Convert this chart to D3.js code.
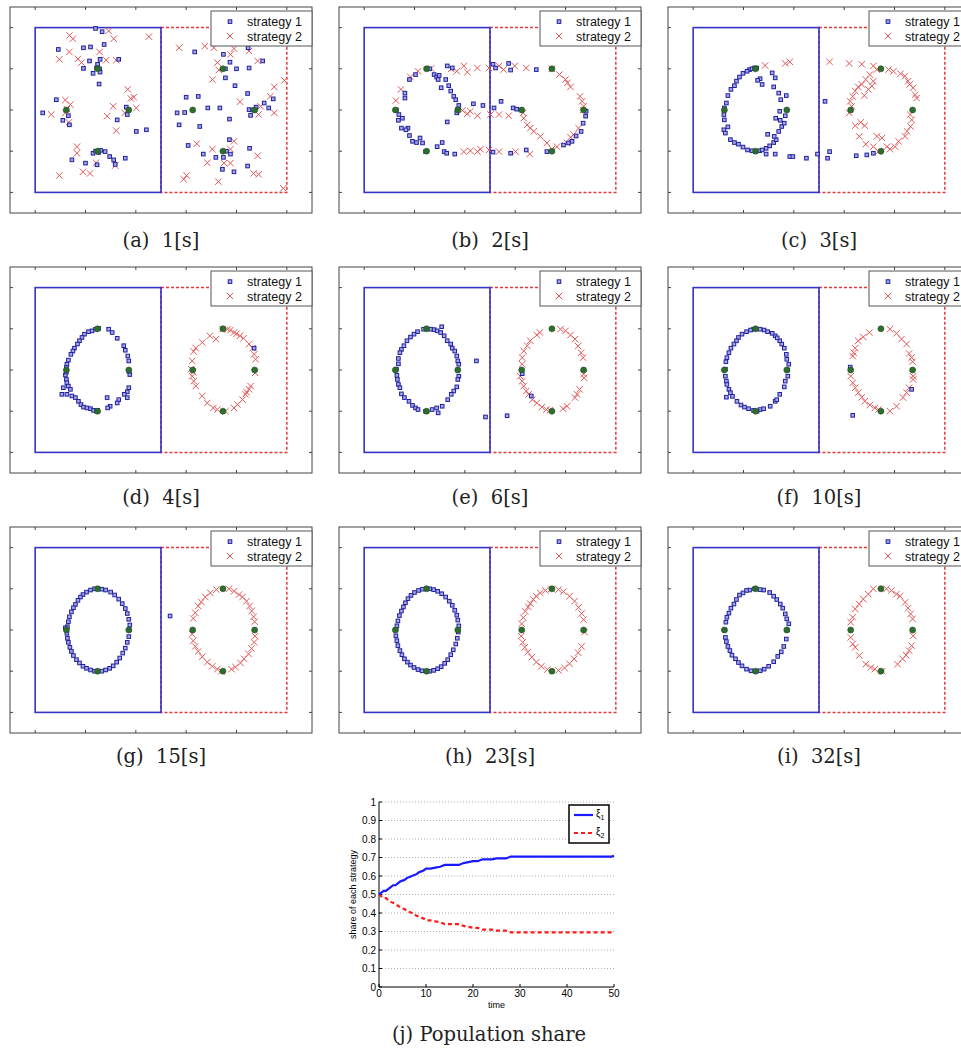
<!DOCTYPE html>
<html>
<head>
<meta charset="utf-8">
<script src="https://cdn.jsdelivr.net/npm/d3@7"></script>
<style>
  body { margin: 0; background: #fff; }
  .sans { font-family: "Liberation Sans", Arial, sans-serif; }
  .cap { font-family: "DejaVu Serif", serif; }
</style>
</head>
<body>
<svg id="fig" width="961" height="1050"></svg>
<script>
// ---- scatter panel data (positions in plot units) ----
const xTicks = [0, 1, 2, 3, 4, 5];
const yTicks = [0, 1, 2, 3, 4];
const targets = [[0.62, 2], [1.86, 2], [1.24, 3], [1.24, 1], [3.13, 2], [4.36, 2], [3.73, 3], [3.73, 1]];
const captions = ["(a)  1[s]", "(b)  2[s]", "(c)  3[s]", "(d)  4[s]", "(e)  6[s]", "(f)  10[s]", "(g)  15[s]", "(h)  23[s]", "(i)  32[s]"];
const legendLabels = ["strategy 1", "strategy 2"];

const s1_a = [[1.20,3.98],[1.33,3.90],[0.46,3.47],[0.96,3.51],[1.10,3.53],[1.37,3.59],[1.08,3.19],[1.29,3.23],[1.24,3.11],[0.96,3.01],[1.15,2.89],[1.29,2.92],[1.66,3.23],[1.27,2.63],[0.42,2.25],[0.15,1.93],[0.55,1.75],[0.66,1.86],[0.68,1.64],[1.63,1.76],[1.83,1.89],[1.81,2.07],[2.01,1.48],[2.21,1.52],[0.73,0.79],[1.00,0.71],[1.15,0.95],[1.23,0.67],[1.39,0.99],[1.48,0.87],[1.56,0.79],[1.59,0.68],[1.79,0.83],[1.26,0.97],[1.22,3.02],[1.28,3.0],[1.2,1.0],[1.30,1.02],[1.85,2.0],
  [3.17,3.41],[3.74,3.35],[3.87,3.16],[4.23,3.51],[4.52,3.19],[4.00,3.00],[4.25,3.02],[3.78,2.78],[3.97,2.59],[3.00,2.31],[3.24,2.33],[4.22,2.40],[2.82,1.93],[2.97,1.94],[2.86,1.64],[3.27,1.60],[3.43,2.05],[3.67,2.05],[3.86,1.78],[4.25,2.01],[4.28,1.87],[4.39,2.07],[4.55,2.17],[4.73,2.27],[4.64,2.05],[3.04,1.14],[3.34,0.93],[3.59,0.85],[3.74,0.85],[3.86,1.28],[3.88,0.93],[4.26,1.07],[3.72,0.56],[3.95,0.50],[4.22,0.64],[4.32,2.0],[3.78,3.0],[3.80,1.0]];
const s2_a = [[0.68,3.81],[0.75,3.73],[1.46,3.92],[1.56,3.73],[2.26,3.78],[0.48,3.23],[0.68,3.41],[0.85,3.24],[0.92,3.15],[1.28,3.41],[1.41,3.21],[1.61,3.21],[1.84,2.50],[1.96,2.31],[0.60,2.24],[0.70,2.13],[0.60,1.93],[0.32,1.89],[0.67,1.70],[1.55,2.09],[1.43,1.85],[1.78,1.93],[2.01,2.05],[1.61,1.50],[0.83,1.11],[0.83,0.95],[0.48,0.41],[0.95,0.50],[1.09,0.46],[1.21,0.72],[1.59,0.65],[1.90,2.28],[0.63,2.02],
  [2.86,3.51],[3.37,3.55],[3.55,3.51],[3.95,3.49],[4.25,3.43],[3.88,3.35],[4.42,3.19],[3.62,3.15],[3.65,2.97],[3.52,2.74],[4.95,2.72],[4.75,2.56],[4.67,2.33],[4.07,2.20],[4.48,2.09],[4.75,1.93],[4.44,1.89],[3.21,1.18],[3.52,1.05],[3.95,1.24],[3.88,1.05],[3.42,0.72],[3.75,0.71],[3.88,0.71],[4.42,0.89],[3.01,0.41],[2.95,0.32],[3.64,0.26],[4.34,0.46],[4.44,0.44],[4.93,0.10]];

const s1_b = [[0.90,2.74],[1.02,2.86],[1.39,2.86],[1.44,2.80],[1.49,2.84],[1.47,2.74],[1.62,2.74],[1.53,2.54],[1.68,2.59],[1.72,2.46],[1.78,2.33],[1.82,2.25],[1.88,2.11],[1.84,1.93],[1.65,1.71],[0.81,2.41],[0.81,2.29],[0.69,1.89],[0.68,1.75],[0.76,1.80],[0.74,1.56],[0.87,1.56],[0.83,1.52],[0.90,1.38],[0.96,1.24],[1.04,1.21],[1.11,1.32],[1.16,1.20],[1.45,1.11],[1.55,1.21],[1.59,0.99],[1.64,0.95],[1.80,0.93],[1.65,3.07],[1.75,3.02],[2.17,2.15],[2.36,2.11],[2.56,3.11],[2.61,3.02],[2.58,2.05],[2.72,2.21],[2.87,3.13],[2.91,2.97],[2.96,2.05],[3.03,2.02],[3.42,2.98],[2.56,0.98],[2.91,0.95],[3.22,1.03],[3.63,0.99],[3.96,1.15],[4.06,1.20],[4.13,1.24],[4.21,1.37],[4.31,1.48],[4.35,1.68],[4.40,1.85],[4.41,1.97],[1.22,0.99],[1.30,3.0],[0.64,2.0],[1.86,2.02]];
const s2_b = [[0.73,2.50],[0.63,2.23],[0.92,2.80],[1.07,2.94],[1.33,3.01],[1.73,3.00],[1.84,2.94],[1.98,3.07],[2.05,2.92],[2.25,3.02],[2.48,3.02],[2.68,3.07],[2.77,2.98],[2.99,3.07],[3.22,3.02],[3.73,3.00],[3.88,2.86],[4.00,2.74],[4.10,2.56],[4.04,2.66],[4.29,2.33],[4.33,2.21],[4.36,2.09],[4.26,1.56],[4.16,1.40],[4.10,1.34],[4.03,1.20],[3.83,1.11],[3.73,1.05],[3.63,1.20],[3.50,1.36],[3.37,1.48],[3.30,1.56],[3.24,1.64],[3.17,1.80],[3.16,1.93],[2.87,1.86],[2.68,1.89],[2.51,1.89],[2.25,1.86],[2.11,1.97],[1.95,1.99],[2.05,1.91],[1.98,0.99],[2.11,1.01],[2.25,0.99],[2.31,1.05],[2.48,1.03],[2.68,0.99],[3.01,0.99],[3.29,0.93],[4.35,2.0]];

const s1_c = [[1.12,2.98],[1.17,3.00],[1.22,3.02],[1.07,2.94],[0.99,2.89],[0.92,2.80],[0.86,2.70],[0.82,2.59],[0.75,2.50],[0.69,2.35],[0.66,2.17],[0.61,1.89],[0.62,1.76],[0.61,1.52],[0.64,1.44],[0.69,1.59],[0.74,1.28],[0.82,1.21],[0.90,1.17],[0.99,1.10],[1.08,1.03],[1.17,1.01],[1.24,0.99],[1.32,1.01],[1.37,1.03],[1.45,1.07],[1.52,1.13],[1.60,1.21],[1.65,1.28],[1.48,1.41],[1.61,1.36],[1.70,1.48],[1.76,1.60],[1.81,1.68],[1.73,1.75],[1.83,1.86],[1.72,1.97],[1.64,1.80],[1.74,2.25],[1.85,2.35],[1.70,2.41],[1.60,2.56],[1.63,2.78],[1.57,2.90],[1.33,2.76],[1.28,2.72],[1.37,2.62],[1.45,0.93],[1.63,0.93],[1.92,0.87],[1.98,0.87],[2.25,0.83],[2.47,0.93],[2.67,0.83],[2.71,0.99],[2.62,2.21],[3.24,0.89],[3.45,0.91],[3.58,0.95],[0.62,2.05],[1.26,3.02]];
const s2_c = [[1.43,3.08],[1.83,3.13],[1.92,3.17],[2.71,3.17],[3.10,3.13],[3.35,3.11],[3.58,3.07],[3.65,2.98],[3.88,2.98],[3.98,2.94],[4.21,2.82],[4.27,2.70],[4.37,2.54],[4.41,2.37],[4.44,2.29],[3.51,2.86],[3.43,2.74],[3.35,2.62],[3.28,2.56],[3.22,2.46],[3.17,2.33],[3.12,2.21],[3.15,2.09],[3.10,1.93],[3.48,2.50],[3.58,2.70],[3.22,1.62],[3.33,1.70],[3.41,1.62],[3.30,1.36],[3.43,1.17],[3.65,1.36],[3.75,1.32],[3.85,1.11],[3.91,1.05],[4.01,1.11],[4.08,1.24],[4.21,1.36],[4.25,1.48],[4.32,1.60],[4.34,1.76],[4.31,1.89],[3.58,1.11],[3.68,0.99],[4.12,2.88],[4.30,2.62],[3.40,2.35],[3.55,2.58]];

const s1_d = [[1.26,3.01],[1.20,2.99],[1.13,2.95],[1.06,2.93],[0.98,2.87],[0.93,2.79],[0.88,2.71],[0.84,2.63],[0.78,2.53],[0.75,2.46],[0.71,2.38],[0.66,2.24],[0.63,2.14],[0.62,2.06],[0.60,1.88],[0.62,1.77],[0.63,1.69],[0.66,1.61],[0.56,1.57],[0.53,1.41],[0.63,1.41],[0.70,1.53],[0.73,1.37],[0.80,1.33],[0.86,1.24],[0.91,1.16],[0.96,1.10],[1.03,1.08],[1.10,1.06],[1.16,1.02],[1.22,1.00],[1.46,2.99],[1.53,2.91],[1.63,2.77],[1.76,2.59],[1.79,2.48],[1.84,2.34],[1.86,2.22],[1.88,1.89],[1.86,1.57],[1.83,1.47],[1.77,1.41],[1.83,1.33],[1.66,1.28],[1.63,1.20],[1.49,1.12],[1.44,1.08],[1.43,1.33],[4.35,2.53],[0.62,1.95],[1.24,1.02],[1.86,1.97]];
const s2_d = [[3.72,2.99],[3.82,2.99],[3.88,2.97],[3.95,2.91],[4.07,2.83],[4.14,2.77],[4.25,2.63],[4.32,2.53],[4.35,2.38],[4.38,2.26],[4.37,1.93],[4.28,1.61],[4.25,1.53],[4.18,1.41],[4.12,1.28],[4.02,1.16],[3.95,1.08],[3.59,2.75],[3.47,2.83],[3.32,2.67],[3.19,2.53],[3.15,2.45],[3.12,2.22],[3.10,2.02],[3.12,1.85],[3.15,1.73],[3.19,1.61],[3.32,1.37],[3.42,1.20],[3.54,1.08],[3.62,1.04],[4.00,2.88],[4.20,1.46],[3.14,1.95],[3.78,1.0]];

const s1_e = [[1.06,2.93],[0.99,2.87],[0.92,2.80],[0.85,2.71],[0.79,2.59],[0.74,2.50],[0.71,2.42],[0.68,2.28],[0.65,1.87],[0.66,1.77],[0.68,1.65],[0.71,1.57],[0.74,1.42],[0.89,1.24],[0.96,1.14],[1.02,1.08],[1.07,1.04],[1.32,2.99],[1.39,2.98],[1.45,2.95],[1.54,3.05],[1.52,2.91],[1.59,2.83],[1.65,2.71],[1.72,2.63],[1.75,2.53],[1.80,2.46],[1.84,2.34],[1.86,2.22],[1.88,2.14],[1.88,1.85],[1.86,1.77],[1.84,1.59],[1.78,1.49],[1.73,1.41],[1.66,1.28],[1.55,1.12],[1.44,1.08],[1.47,0.96],[1.35,1.04],[2.23,2.22],[2.41,0.86],[2.84,0.89],[3.14,1.91],[3.32,1.37],[0.64,2.02],[1.86,2.0],[1.22,1.0],[1.18,2.99],[0.80,1.33],[0.68,2.15]];
const s2_e = [[3.43,2.85],[3.30,2.71],[3.24,2.59],[3.17,2.46],[3.14,2.30],[3.14,2.14],[3.10,1.85],[3.14,1.73],[3.17,1.61],[3.22,1.49],[3.27,1.41],[3.34,1.28],[3.43,1.20],[3.53,1.10],[3.62,1.04],[3.69,1.02],[3.90,2.99],[4.00,2.95],[4.10,2.85],[4.19,2.75],[4.31,2.42],[4.35,2.30],[4.37,1.81],[4.28,1.53],[4.23,1.41],[4.19,1.33],[4.03,1.12],[3.49,2.91],[4.36,1.90],[4.25,2.58],[3.95,1.06]];

const s1_f = [[1.20,2.99],[1.33,2.99],[1.41,2.97],[1.48,2.93],[1.14,2.97],[1.06,2.93],[0.97,2.87],[0.90,2.79],[0.86,2.71],[0.81,2.63],[0.75,2.53],[0.71,2.42],[0.67,2.30],[0.64,1.85],[0.66,1.73],[0.67,1.65],[0.71,1.53],[0.74,1.45],[0.66,1.34],[0.87,1.24],[0.95,1.15],[1.02,1.10],[1.10,1.06],[1.20,1.02],[1.33,1.04],[1.40,1.06],[1.53,1.12],[1.63,1.24],[1.66,1.28],[1.72,1.41],[1.81,1.59],[1.83,1.73],[1.88,1.85],[1.90,2.14],[1.86,2.26],[1.85,2.38],[1.81,2.53],[1.76,2.63],[1.72,2.71],[1.63,2.83],[1.57,2.89],[3.17,0.90],[3.12,2.07],[4.34,1.53],[0.64,2.02],[1.88,2.0],[0.65,2.2],[0.78,1.36],[1.27,1.0],[1.67,2.78]];
const s2_f = [[3.50,2.91],[3.38,2.80],[3.28,2.71],[3.22,2.53],[3.19,2.42],[3.17,2.34],[3.13,1.85],[3.17,1.69],[3.22,1.57],[3.28,1.45],[3.35,1.34],[3.41,1.24],[3.51,1.15],[3.61,1.08],[3.68,1.04],[3.91,2.99],[4.04,2.89],[4.14,2.75],[4.24,2.63],[4.29,2.40],[4.34,2.30],[4.36,2.20],[4.37,1.85],[4.37,1.77],[4.29,1.57],[4.24,1.45],[4.17,1.33],[4.04,1.12],[3.91,1.00]];

const s1_g = [[1.25,3.0],[1.18,3.0],[1.10,2.97],[1.02,2.92],[0.95,2.86],[0.90,2.80],[0.85,2.72],[0.80,2.62],[0.76,2.54],[0.72,2.44],[0.68,2.32],[0.66,2.20],[0.64,2.08],[0.63,1.92],[0.64,1.80],[0.66,1.70],[0.69,1.58],[0.72,1.48],[0.76,1.38],[0.82,1.28],[0.88,1.20],[0.95,1.12],[1.02,1.07],[1.10,1.03],[1.18,1.0],[1.32,1.0],[1.40,1.03],[1.48,1.07],[1.55,1.13],[1.62,1.22],[1.68,1.32],[1.74,1.44],[1.79,1.56],[1.83,1.70],[1.86,1.84],[1.88,2.12],[1.86,2.26],[1.83,2.40],[1.79,2.52],[1.73,2.64],[1.66,2.75],[1.58,2.85],[1.50,2.92],[1.40,2.97],[1.32,2.99],[0.60,2.05],[1.87,2.0],[2.68,2.34]];
const s2_g = [[3.85,3.0],[3.95,2.94],[4.05,2.86],[4.12,2.80],[4.20,2.70],[4.26,2.58],[4.30,2.46],[4.34,2.32],[4.36,2.20],[4.37,1.85],[4.35,1.70],[4.30,1.55],[4.24,1.42],[4.15,1.30],[4.08,1.20],[3.98,1.10],[3.60,2.98],[3.48,2.90],[3.38,2.80],[3.30,2.68],[3.24,2.58],[3.18,2.42],[3.14,2.28],[3.12,1.90],[3.14,1.74],[3.18,1.60],[3.24,1.48],[3.32,1.35],[3.42,1.22],[3.52,1.12],[3.62,1.05],[3.70,1.0],[3.90,1.05]];

const s1_h = [[1.24,3.01],[1.16,2.99],[1.08,2.96],[1.00,2.91],[0.93,2.84],[0.87,2.76],[0.82,2.66],[0.78,2.56],[0.74,2.46],[0.70,2.35],[0.67,2.22],[0.65,2.10],[0.63,1.86],[0.65,1.74],[0.67,1.62],[0.71,1.50],[0.75,1.40],[0.80,1.30],[0.86,1.22],[0.92,1.15],[0.99,1.09],[1.07,1.04],[1.15,1.01],[1.30,1.0],[1.38,1.02],[1.46,1.06],[1.53,1.11],[1.60,1.19],[1.66,1.28],[1.72,1.40],[1.77,1.52],[1.82,1.66],[1.85,1.80],[1.88,2.10],[1.86,2.24],[1.84,2.36],[1.80,2.48],[1.75,2.60],[1.69,2.70],[1.62,2.80],[1.54,2.88],[1.46,2.94],[1.38,2.98],[1.30,3.0],[1.87,1.95],[0.63,2.0]];
const s2_h = [[3.72,3.0],[3.60,2.96],[3.50,2.90],[3.42,2.82],[3.36,2.74],[3.30,2.64],[3.26,2.56],[3.20,2.45],[3.16,2.30],[3.13,2.15],[3.12,1.85],[3.15,1.70],[3.19,1.58],[3.25,1.46],[3.33,1.34],[3.42,1.22],[3.52,1.12],[3.64,1.04],[3.86,1.02],[3.98,1.08],[4.08,1.18],[4.17,1.30],[4.25,1.45],[4.32,1.60],[4.38,1.95],[4.36,2.25],[4.32,2.40],[4.26,2.55],[4.18,2.70],[4.08,2.82],[3.96,2.93],[3.86,2.98]];

const s1_i = [[1.12,2.97],[1.06,2.96],[0.99,2.90],[0.92,2.85],[0.86,2.74],[0.81,2.63],[0.75,2.53],[0.71,2.41],[0.67,2.31],[0.65,2.19],[0.64,1.82],[0.66,1.72],[0.69,1.60],[0.73,1.50],[0.77,1.39],[0.84,1.30],[0.90,1.21],[0.97,1.13],[1.06,1.05],[1.15,1.01],[1.33,1.01],[1.41,1.05],[1.50,1.12],[1.60,1.23],[1.68,1.36],[1.75,1.47],[1.80,1.60],[1.85,1.78],[1.90,2.15],[1.86,2.27],[1.83,2.39],[1.78,2.53],[1.73,2.63],[1.66,2.74],[1.60,2.82],[1.52,2.91],[1.40,2.97],[1.33,2.98],[0.63,2.0],[1.87,2.0],[1.24,1.0],[1.22,3.0]];
const s2_i = [[3.84,3.00],[3.94,2.96],[4.04,2.87],[4.11,2.82],[4.21,2.67],[4.27,2.53],[4.32,2.39],[4.36,2.27],[4.37,1.86],[4.34,1.62],[4.29,1.50],[4.23,1.39],[4.16,1.30],[4.06,1.17],[3.58,3.00],[3.48,2.87],[3.38,2.75],[3.30,2.63],[3.22,2.51],[3.17,2.31],[3.13,2.19],[3.13,1.82],[3.17,1.66],[3.22,1.58],[3.30,1.38],[3.43,1.17],[3.53,1.09],[3.61,1.05],[3.76,1.0]];

const strategy1 = [s1_a, s1_b, s1_c, s1_d, s1_e, s1_f, s1_g, s1_h, s1_i];
const strategy2 = [s2_a, s2_b, s2_c, s2_d, s2_e, s2_f, s2_g, s2_h, s2_i];

// ---- population share (panel j) ----
const time = [0,0.5,1,1.5,2,2.5,3,3.5,4,4.5,5,5.5,6,6.5,7,7.5,8,8.5,9,9.5,10,11,12,13,14,15,16,17,18,19,20,21,22,23,24,25,26,27,28,29,30,35,40,45,49.5,50];
const xi1 = [0.50,0.51,0.52,0.52,0.53,0.54,0.55,0.55,0.56,0.57,0.575,0.58,0.59,0.595,0.60,0.605,0.61,0.62,0.625,0.63,0.64,0.64,0.645,0.65,0.66,0.66,0.66,0.66,0.67,0.675,0.68,0.68,0.69,0.69,0.69,0.695,0.695,0.695,0.705,0.705,0.705,0.705,0.705,0.705,0.705,0.71];
const xi2 = [0.50,0.49,0.48,0.48,0.47,0.46,0.455,0.45,0.44,0.43,0.425,0.42,0.41,0.405,0.40,0.39,0.385,0.38,0.375,0.37,0.36,0.36,0.355,0.35,0.34,0.34,0.34,0.34,0.33,0.325,0.32,0.32,0.31,0.31,0.31,0.305,0.305,0.305,0.295,0.295,0.295,0.295,0.295,0.295,0.295,0.29];
const shareTicks = [0,0.1,0.2,0.3,0.4,0.5,0.6,0.7,0.8,0.9,1];
const timeTicks = [0,10,20,30,40,50];

const svg = d3.select("#fig");

const pw = 302, ph = 206;
const colLeft = [10, 339, 668];
const rowTop = [7, 267, 527];
const capBase = [247, 504, 763];

const x = d3.scaleLinear().domain([-0.5, 5.5]).range([0, pw]);
const y = d3.scaleLinear().domain([-0.5, 4.5]).range([ph, 0]);

const blue = "#3434c8";
const red = "#e23a3a";
const sqFill = "#a8a8e6", sqStroke = "#2020a0";
const crossCol = "#e05858";

function drawPanel(i) {
    const col = i % 3, row = Math.floor(i / 3);
    const g = svg.append("g")
        .attr("transform", "translate(" + colLeft[col] + "," + rowTop[row] + ")");

    // boxes
    g.append("rect")
        .attr("x", x(2.5)).attr("y", y(4))
        .attr("width", x(5) - x(2.5)).attr("height", y(0) - y(4))
        .attr("fill", "none").attr("stroke", red)
        .attr("stroke-width", 1.5).attr("stroke-dasharray", "3,2");
    g.append("rect")
        .attr("x", x(0)).attr("y", y(4))
        .attr("width", x(2.5) - x(0)).attr("height", y(0) - y(4))
        .attr("fill", "none").attr("stroke", blue).attr("stroke-width", 1.6);

    // strategy 2 crosses
    g.selectAll(".s2").data(strategy2[i]).enter().append("path")
        .attr("transform", d => "translate(" + x(d[0]) + "," + y(d[1]) + ")")
        .attr("d", "M-3.2,-3.2L3.2,3.2M-3.2,3.2L3.2,-3.2")
        .attr("stroke", crossCol).attr("stroke-width", 1).attr("fill", "none");

    // strategy 1 squares
    g.selectAll(".s1").data(strategy1[i]).enter().append("rect")
        .attr("x", d => x(d[0]) - 1.8).attr("y", d => y(d[1]) - 1.8)
        .attr("width", 3.6).attr("height", 3.6)
        .attr("fill", sqFill).attr("stroke", sqStroke).attr("stroke-width", 1);

    // target points
    g.selectAll(".tg").data(targets).enter().append("circle")
        .attr("cx", d => x(d[0])).attr("cy", d => y(d[1])).attr("r", 3)
        .attr("fill", "#2c6e2c").attr("stroke", "#244d24").attr("stroke-width", 0.6);

    // frame + inward ticks
    g.append("rect").attr("width", pw).attr("height", ph)
        .attr("fill", "none").attr("stroke", "#444").attr("stroke-width", 1);
    xTicks.forEach(function(t) {
        g.append("line").attr("x1", x(t)).attr("x2", x(t)).attr("y1", ph).attr("y2", ph - 3).attr("stroke", "#444");
        g.append("line").attr("x1", x(t)).attr("x2", x(t)).attr("y1", 0).attr("y2", 3).attr("stroke", "#444");
    });
    yTicks.forEach(function(t) {
        g.append("line").attr("x1", 0).attr("x2", 3).attr("y1", y(t)).attr("y2", y(t)).attr("stroke", "#444");
        g.append("line").attr("x1", pw).attr("x2", pw - 3).attr("y1", y(t)).attr("y2", y(t)).attr("stroke", "#444");
    });

    // legend
    const lg = g.append("g").attr("transform", "translate(" + (pw - 101) + ",4)");
    lg.append("rect").attr("width", 101).attr("height", 35)
        .attr("fill", "#fff").attr("stroke", "#555").attr("stroke-width", 1);
    lg.append("rect").attr("x", 17.2).attr("y", 8.8).attr("width", 3.6).attr("height", 3.6)
        .attr("fill", sqFill).attr("stroke", sqStroke).attr("stroke-width", 1);
    lg.append("path").attr("transform", "translate(19,25)")
        .attr("d", "M-3.2,-3.2L3.2,3.2M-3.2,3.2L3.2,-3.2").attr("stroke", crossCol).attr("stroke-width", 1);
    lg.selectAll("text").data(legendLabels).enter().append("text")
        .attr("class", "sans")
        .attr("x", 36).attr("y", (d, k) => 15 + k * 14.5)
        .attr("font-size", 12.5).attr("fill", "#111")
        .text(d => d);

    // caption
    svg.append("text").attr("class", "cap")
        .attr("x", colLeft[col] + pw / 2).attr("y", capBase[row])
        .attr("text-anchor", "middle").attr("font-size", 19.5)
        .attr("fill", "#222")
        .style("white-space", "pre")
        .text(captions[i]);
}

for (let i = 0; i < 9; i++) drawPanel(i);

// ---- panel j ----
const jx = d3.scaleLinear().domain([0, 50]).range([379, 614]);
const jy = d3.scaleLinear().domain([0, 1]).range([987, 802]);
const jg = svg.append("g").attr("class", "sans");

shareTicks.filter(t => t > 0).forEach(function(t) {
    jg.append("line").attr("x1", jx(0)).attr("x2", jx(50)).attr("y1", jy(t)).attr("y2", jy(t))
        .attr("stroke", "#999").attr("stroke-width", 0.8).attr("stroke-dasharray", "1,2");
});

jg.append("line").attr("x1", jx(0)).attr("x2", jx(0)).attr("y1", jy(0)).attr("y2", jy(1)).attr("stroke", "#000");
jg.append("line").attr("x1", jx(0)).attr("x2", jx(50)).attr("y1", jy(0)).attr("y2", jy(0)).attr("stroke", "#000");

shareTicks.forEach(function(t) {
    jg.append("line").attr("x1", jx(0)).attr("x2", jx(0) + 3).attr("y1", jy(t)).attr("y2", jy(t)).attr("stroke", "#000");
    jg.append("text").attr("x", jx(0) - 3).attr("y", jy(t) + 3.5)
        .attr("text-anchor", "end").attr("font-size", 10).text(t);
});
timeTicks.forEach(function(t) {
    jg.append("line").attr("x1", jx(t)).attr("x2", jx(t)).attr("y1", jy(0)).attr("y2", jy(0) - 3).attr("stroke", "#000");
    jg.append("text").attr("x", jx(t)).attr("y", jy(0) + 10)
        .attr("text-anchor", "middle").attr("font-size", 10).text(t);
});
jg.append("text").attr("x", (jx(0) + jx(50)) / 2).attr("y", 1008)
    .attr("text-anchor", "middle").attr("font-size", 9).text("time");
jg.append("text").attr("transform", "translate(356," + jy(0.5) + ") rotate(-90)")
    .attr("text-anchor", "middle").attr("font-size", 9).text("share of each strategy");

const line1 = d3.line().x((d, k) => jx(time[k])).y(d => jy(d));
jg.append("path").attr("d", line1(xi2)).attr("fill", "none")
    .attr("stroke", "#ff1a1a").attr("stroke-width", 2.2).attr("stroke-dasharray", "4,3");
jg.append("path").attr("d", line1(xi1)).attr("fill", "none")
    .attr("stroke", "#1a1aff").attr("stroke-width", 2.2);

// legend j
const jl = jg.append("g").attr("transform", "translate(569,805)");
jl.append("rect").attr("width", 40).attr("height", 38).attr("fill", "#fff")
    .attr("stroke", "#000").attr("stroke-width", 1.5);
jl.append("line").attr("x1", 5).attr("x2", 24).attr("y1", 10).attr("y2", 10)
    .attr("stroke", "#1a1aff").attr("stroke-width", 2.2);
jl.append("line").attr("x1", 5).attr("x2", 24).attr("y1", 28).attr("y2", 28)
    .attr("stroke", "#ff1a1a").attr("stroke-width", 2.2).attr("stroke-dasharray", "4,3");
["1", "2"].forEach(function(s, k) {
    const t = jl.append("text").attr("x", 27).attr("y", 12 + k * 18).attr("font-size", 10);
    t.append("tspan").text("ξ");
    t.append("tspan").attr("font-size", 7).attr("dy", 3).text(s);
});

svg.append("text").attr("class", "cap")
    .attr("x", 489).attr("y", 1041)
    .attr("text-anchor", "middle").attr("font-size", 19.5)
    .attr("fill", "#222")
    .text("(j) Population share");
</script>
</body>
</html>
